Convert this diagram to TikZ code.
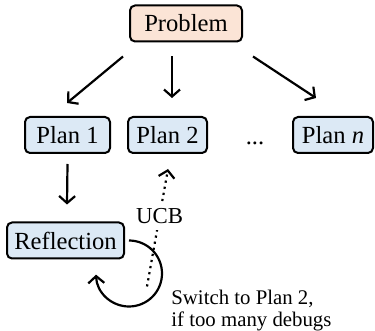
\documentclass[tikz,border=0pt]{standalone}
\usepackage{tikz}
\usepackage{fontspec}
\usepackage{xcolor}
\usetikzlibrary{arrows.meta}
\setmainfont{Liberation Serif}
\definecolor{peach}{HTML}{FBE4D6}
\definecolor{paleblue}{HTML}{DCE9F5}
\begin{document}
\begin{tikzpicture}[x=0.5pt,y=-0.5pt,
            font=\fontsize{12.3}{14}\selectfont,
            box/.style={draw,line width=1pt,rounded corners=2.5pt,minimum height=18pt,inner xsep=3pt},
            arr/.style={line width=1.1pt,-{Straight Barb[length=3.5pt,width=8pt]}}]
            \useasboundingbox (0,0) rectangle (375,331);
            \node (prob) at (186,23.5) [box,fill=peach,minimum width=56pt] {Problem};
            \node (plan1) at (67.5,135) [box,fill=paleblue,minimum width=42.5pt] {Plan 1};
            \node (plan2) at (167.5,135) [box,fill=paleblue,minimum width=39.5pt] {Plan 2};
            \node (dots) at (255,136) [inner sep=0pt] {\vphantom{Pl}...};
            \node (plann) at (333,135) [box,fill=paleblue,minimum width=40pt] {Plan \textit{n}};
            \node (refl) at (65.5,240.5) [box,fill=paleblue,minimum width=58.5pt] {Reflection};
            \node (switch) at (171,327) [anchor=base west,align=left,inner sep=0pt,font=\fontsize{10.4}{11}\selectfont] {Switch to Plan 2,\\if too many debugs};

            \draw[arr] ([shift={(-6,14)}]prob.south west) -- ([shift={(-0.5,-13)}]plan1.north);
            \draw[arr] ([shift={(-14,14)}]prob.south) -- ([shift={(4.5,-18)}]plan2.north);
            \draw[arr] ([shift={(10,14)}]prob.south east) -- ([shift={(-17,-18)}]plann.north);
            \draw[arr] ([shift={(0,10)}]plan1.south) -- ([shift={(1.5,-17)}]refl.north);
            \draw[arr] ([shift={(4,0)}]refl.east) arc[start angle=90,end angle=-178,radius=16.5pt];
            \draw[arr,dotted] ([shift={(22,27)}]refl.south east) -- node[pos=0.6,fill=white,inner xsep=1pt,inner ysep=3pt,font=\fontsize{11.4}{13}\selectfont] (ucb) {UCB} ([shift={(0.5,15)}]plan2.south);
        \end{tikzpicture}
\end{document}
